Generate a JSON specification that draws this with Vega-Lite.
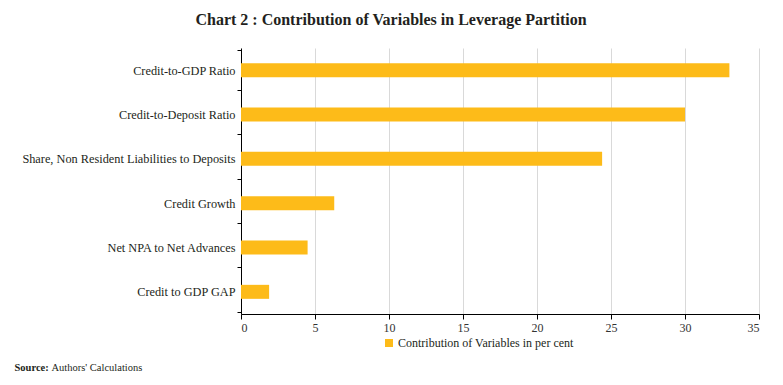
{
  "$schema": "https://vega.github.io/schema/vega-lite/v6.json",
  "width": 518,
  "height": 266,
  "autosize": {"type": "none"},
  "padding": {"left": 241, "top": 48, "right": 24, "bottom": 71},
  "background": "white",
  "title": {
    "text": "Chart 2 : Contribution of Variables in Leverage Partition",
    "font": "Liberation Serif",
    "fontSize": 16,
    "fontWeight": "bold",
    "color": "#231F20",
    "anchor": "middle",
    "dx": -109,
    "offset": 14
  },
  "data": {
    "values": [
      {"variable": "Credit-to-GDP Ratio", "value": 33},
      {"variable": "Credit-to-Deposit Ratio", "value": 30},
      {"variable": "Share, Non Resident Liabilities to Deposits", "value": 24.4},
      {"variable": "Credit Growth", "value": 6.3},
      {"variable": "Net NPA to Net Advances", "value": 4.5},
      {"variable": "Credit to GDP GAP", "value": 1.9}
    ]
  },
  "mark": {"type": "bar", "size": 14},
  "encoding": {
    "y": {
      "field": "variable",
      "type": "nominal",
      "sort": null,
      "axis": {
        "tickBand": "extent",
        "domainColor": "#000000",
        "tickColor": "#000000",
        "tickSize": 4,
        "labelFont": "Liberation Serif",
        "labelFontSize": 12.3,
        "labelColor": "#231F20",
        "labelPadding": 2,
        "labelLimit": 300,
        "title": "Source:",
        "titleFont": "Liberation Serif",
        "titleFontSize": 10.5,
        "titleFontWeight": "bold",
        "titleColor": "#231F20",
        "titleAngle": 0,
        "titleAlign": "left",
        "titleBaseline": "alphabetic",
        "titleX": -227,
        "titleY": 322
      }
    },
    "x": {
      "field": "value",
      "type": "quantitative",
      "scale": {"domain": [0, 35], "nice": false},
      "axis": {
        "values": [0, 5, 10, 15, 20, 25, 30, 35],
        "domainColor": "#000000",
        "tickColor": "#000000",
        "tickSize": 5,
        "gridColor": "#d9d9d9",
        "labelFont": "Liberation Serif",
        "labelFontSize": 12,
        "labelColor": "#333333",
        "labelPadding": 3,
        "title": "Authors' Calculations",
        "titleFont": "Liberation Serif",
        "titleFontSize": 10.5,
        "titleFontWeight": "normal",
        "titleColor": "#231F20",
        "titleAlign": "left",
        "titleAnchor": "start",
        "titleBaseline": "alphabetic",
        "titleX": -190,
        "titleY": 56
      }
    },
    "color": {
      "datum": "Contribution of Variables in per cent",
      "type": "nominal",
      "scale": {"range": ["#FDBB19"]},
      "legend": {
        "orient": "none",
        "legendX": 142,
        "legendY": 289,
        "title": null,
        "symbolType": "square",
        "symbolSize": 64,
        "symbolStrokeWidth": 0,
        "labelFont": "Liberation Serif",
        "labelFontSize": 12,
        "labelColor": "#231F20",
        "labelOffset": 3,
        "labelLimit": 400
      }
    }
  },
  "config": {"view": {"stroke": null}}
}
